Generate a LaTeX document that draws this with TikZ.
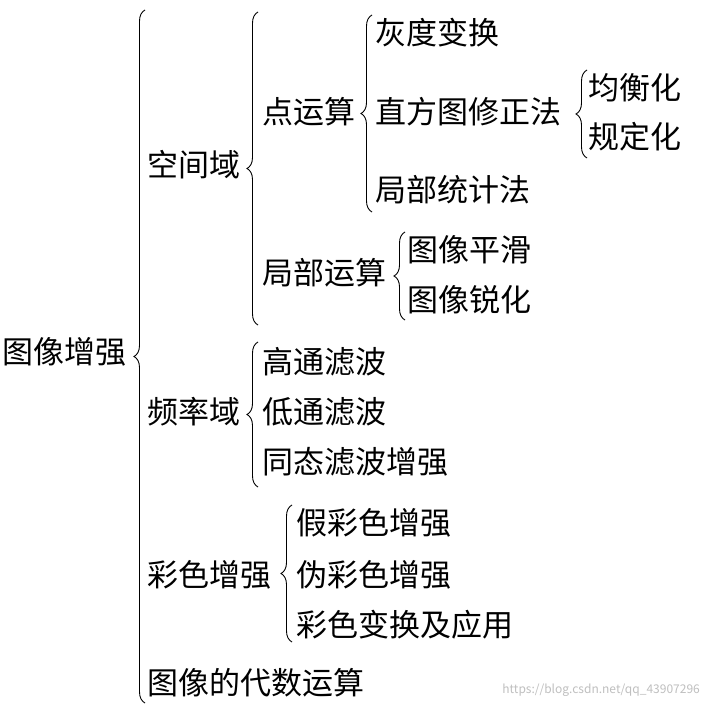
\documentclass[tikz,border=0pt]{standalone}
\usepackage{fontspec}
\setmainfont{Noto Sans CJK SC}
\usetikzlibrary{decorations.pathreplacing}
\begin{document}
\begin{tikzpicture}[x=1pt,y=-1pt,
  t/.style={anchor=west,inner sep=0pt,font=\fontsize{31}{31}\selectfont},
  br/.style={decorate,decoration={brace,mirror,amplitude=11pt},line width=0.9pt}]
\useasboundingbox[fill=white] (0,0) rectangle (706,708);
\node[t] (root) at (2,352) {图像增强};
\draw[br] (145,10) -- (145,703);
\node[t] (kj) at (147,165) {空间域};
\draw[br] (258,12) -- (258,325);
\node[t] (dys) at (262,112) {点运算};
\draw[br] (372,15) -- (372,212);
\node[t] (a1) at (375,33) {灰度变换};
\node[t] (a2) at (375,112) {直方图修正法};
\draw[br] (587,70) -- (587,158);
\node[t] (b1) at (588,88) {均衡化};
\node[t] (b2) at (588,137) {规定化};
\node[t] (a3) at (375,190) {局部统计法};
\node[t] (jb) at (262,273) {局部运算};
\draw[br] (405,232) -- (405,320);
\node[t] (c1) at (407,250) {图像平滑};
\node[t] (c2) at (407,300) {图像锐化};
\node[t] (pl) at (147,412) {频率域};
\draw[br] (258,342) -- (258,487);
\node[t] (d1) at (262,362) {高通滤波};
\node[t] (d2) at (262,412) {低通滤波};
\node[t] (d3) at (262,462) {同态滤波增强};
\node[t] (cs) at (147,575) {彩色增强};
\draw[br] (292,505) -- (292,642);
\node[t] (e1) at (296,523) {假彩色增强};
\node[t] (e2) at (296,575) {伪彩色增强};
\node[t] (e3) at (296,625) {彩色变换及应用};
\node[t] (ds) at (147,683) {图像的代数运算};
\node[anchor=east,inner sep=0pt,text=black!25,font=\fontsize{12}{12}\selectfont] (wm) at (700,690) {https://blog.csdn.net/qq\_43907296};
\end{tikzpicture}
\end{document}
